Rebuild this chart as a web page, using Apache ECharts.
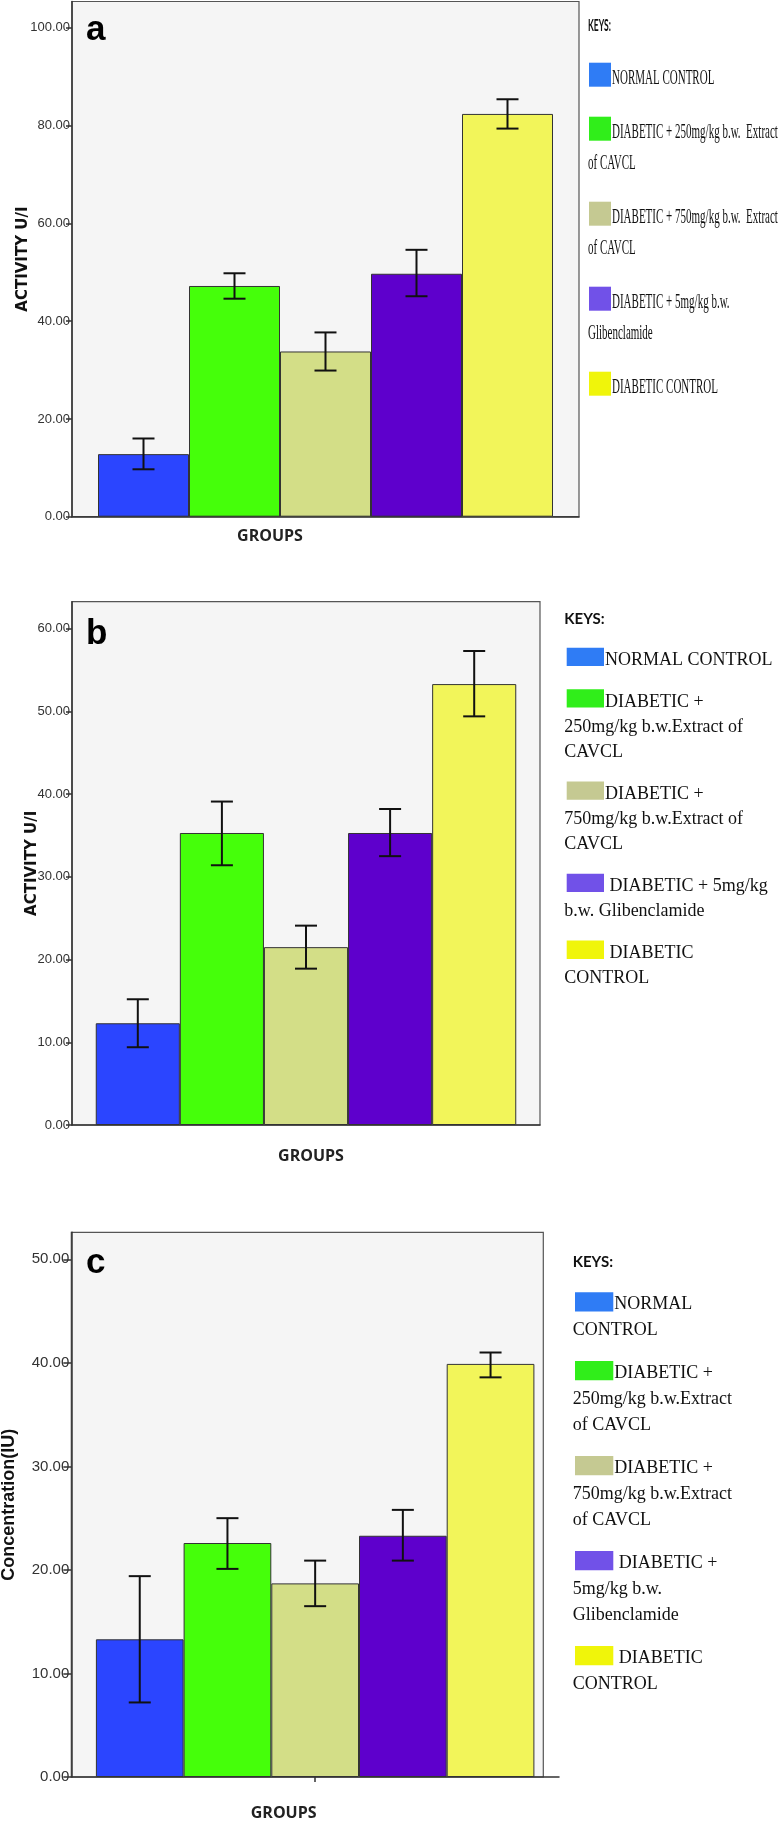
<!DOCTYPE html>
<html><head><meta charset="utf-8">
<script src="https://cdn.jsdelivr.net/npm/echarts@6/dist/echarts.min.js"></script>
<style>html,body{margin:0;padding:0;background:#fff}#c{width:783px;height:1824px}</style>
</head><body><div id="c"></div>
<script>
// ---------- DATA ----------
const groupNames = ['NORMAL CONTROL', 'DIABETIC + 250mg/kg b.w. Extract of CAVCL', 'DIABETIC + 750mg/kg b.w. Extract of CAVCL', 'DIABETIC + 5mg/kg b.w. Glibenclamide', 'DIABETIC CONTROL'];
const category = ['GROUPS'];

const meanA = [12.8, 47.2, 33.8, 49.7, 82.4];
const lowA  = [9.7, 44.6, 29.9, 45.1, 79.4];
const highA = [16.0, 49.8, 37.7, 54.6, 85.4];
const ticksA = [0, 20, 40, 60, 80, 100];

const meanB = [12.3, 35.3, 21.5, 35.3, 53.3];
const lowB  = [9.4, 31.4, 18.9, 32.5, 49.4];
const highB = [15.2, 39.1, 24.1, 38.2, 57.3];
const ticksB = [0, 10, 20, 30, 40, 50, 60];

const meanC = [13.3, 22.6, 18.7, 23.3, 39.9];
const lowC  = [7.2, 20.1, 16.5, 20.9, 38.6];
const highC = [19.4, 25.0, 20.9, 25.8, 41.0];
const ticksC = [0, 10, 20, 30, 40, 50];

const keysA = ['NORMAL CONTROL', 'DIABETIC + 250mg/kg b.w.  Extract\nof CAVCL', 'DIABETIC + 750mg/kg b.w.  Extract\nof CAVCL', 'DIABETIC + 5mg/kg b.w.\nGlibenclamide', 'DIABETIC CONTROL'];
const keysB = ['NORMAL CONTROL', 'DIABETIC +\n250mg/kg b.w.Extract of\nCAVCL', 'DIABETIC +\n750mg/kg b.w.Extract of\nCAVCL', ' DIABETIC + 5mg/kg\nb.w. Glibenclamide', ' DIABETIC\nCONTROL'];
const keysC = ['NORMAL\nCONTROL', 'DIABETIC +\n250mg/kg b.w.Extract\nof CAVCL', 'DIABETIC +\n750mg/kg b.w.Extract\nof CAVCL', ' DIABETIC +\n5mg/kg b.w.\nGlibenclamide', ' DIABETIC\nCONTROL'];

// ---------- STYLES ----------
const barColors = ['#2B45FF', '#45FF0A', '#D3DE87', '#5E00CC', '#F2F55A'];
const keyColors = ['#2F7CF5', '#30EE1A', '#C5C992', '#7151E8', '#F0F50A'];

const panels = [
  { mean: meanA, low: lowA, high: highA, ticks: ticksA, max: 105.4,
    grid: { left: 72, top: 1.5, width: 507, height: 515.2, show: true }, barW: 91,
    letter: 'a', letterX: 86, letterY: 30,
    yName: 'ACTIVITY U/I', yNameStyle: { fontFamily: 'DejaVu Sans', fontWeight: 'bold', fontSize: 15 }, yGap: 41.5,
    labelStyle: { fontFamily: '"Liberation Sans Narrow", "Liberation Sans", sans-serif', fontSize: 13 }, tickLen: 6, labelMargin: 2,
    xGap: 12, xPad: [0, 111, 0, 0], xTick: false,
    keys: keysA,
    L: { keysX: 588, keysY: 26, keysFont: 'bold 17px Lato', keysScale: 0.5, sqX: 589, sqW: 22, sqH: 24, firstTop: 62.7, textGap: 1, line2X: 588, textDy: 16, lineH: 31, itemBase: 54, scale: 0.5, font: '22px "Liberation Serif"' } },
  { mean: meanB, low: lowB, high: highB, ticks: ticksB, max: 63.26,
    grid: { left: 72, top: 601.7, width: 468, height: 523.3, show: true }, barW: 84.1,
    letter: 'b', letterX: 86, letterY: 634.7,
    yName: 'ACTIVITY U/I', yNameStyle: { fontFamily: 'DejaVu Sans', fontWeight: 'bold', fontSize: 15 }, yGap: 32,
    labelStyle: { fontFamily: '"Liberation Sans Narrow", "Liberation Sans", sans-serif', fontSize: 13 }, tickLen: 6, labelMargin: 2,
    xGap: 23, xPad: [0, 0, 0, 10], xTick: false,
    keys: keysB,
    L: { keysX: 564.3, keysY: 619, keysFont: 'bold 15px Lato', keysScale: 1, sqX: 566.7, sqW: 37.3, sqH: 18.3, firstTop: 647.7, textGap: 1, line2X: 564.3, textDy: 12.5, lineH: 25.3, itemBase: 41.6, scale: 1, font: '18px "Liberation Serif"' } },
  { mean: meanC, low: lowC, high: highC, ticks: ticksC, max: 52.61,
    grid: { left: 71.3, top: 1232.3, width: 487.7, height: 544.7, show: false }, frameW: 472, barW: 87.7,
    letter: 'c', letterX: 86, letterY: 1263,
    yName: 'Concentration(IU)', yNameStyle: { fontFamily: '"Liberation Sans", Arial, sans-serif', fontWeight: 'bold', fontSize: 18 }, yGap: 53,
    labelStyle: { fontFamily: '"Liberation Sans", Arial, sans-serif', fontSize: 15 }, tickLen: 8, labelMargin: 2,
    xGap: 28, xPad: [0, 63, 0, 0], xTick: true,
    keys: keysC,
    L: { keysX: 572.7, keysY: 1262, keysFont: 'bold 15px Lato', keysScale: 1, sqX: 575, sqW: 38.3, sqH: 19.3, firstTop: 1292.3, textGap: 1, line2X: 572.7, textDy: 12, lineH: 26.3, itemBase: 42.4, scale: 1, font: '18px "Liberation Serif"' } }
];

const grids = [], xAxes = [], yAxes = [], series = [], graphics = [];

function legendEls(labels, L) {
  const els = [];
  els.push({ type: 'text', x: L.keysX, y: L.keysY, scaleX: L.keysScale,
    style: { text: 'KEYS:', x: 0, y: 0, font: L.keysFont, fill: '#111', align: 'left', verticalAlign: 'middle' } });
  let top = L.firstTop;
  labels.forEach((lab, i) => {
    const lines = lab.split('\n');
    els.push({ type: 'rect', shape: { x: L.sqX, y: top, width: L.sqW, height: L.sqH }, style: { fill: keyColors[i] } });
    lines.forEach((ln, j) => {
      els.push({ type: 'text', x: j === 0 ? L.sqX + L.sqW + L.textGap : L.line2X, y: top + L.textDy + j * L.lineH, scaleX: L.scale,
        style: { text: ln, x: 0, y: 0, font: L.font, fill: '#111', align: 'left', verticalAlign: 'middle' } });
    });
    top += L.itemBase + (lines.length - 1) * L.lineH;
  });
  return els;
}

panels.forEach((p, k) => {
  grids.push(Object.assign({ backgroundColor: '#F5F5F5', borderColor: '#555', borderWidth: 1.2, outerBoundsMode: 'none', containLabel: false }, p.grid));
  if (!p.grid.show) {
    graphics.push({ type: 'rect', z: -10, shape: { x: p.grid.left, y: p.grid.top, width: p.frameW, height: p.grid.height },
      style: { fill: '#F5F5F5', stroke: '#555', lineWidth: 1.2 } });
  }
  xAxes.push({ type: 'category', gridIndex: k, data: category,
    axisLabel: { show: false },
    axisTick: { show: p.xTick, alignWithLabel: true, length: 5, lineStyle: { color: '#333', width: 1.5 } },
    axisLine: { show: true, lineStyle: { color: '#333', width: 1.5 } },
    splitLine: { show: false },
    name: 'GROUPS', nameLocation: 'middle', nameGap: p.xGap, nameMoveOverlap: false,
    nameTextStyle: { fontFamily: '"Open Sans", sans-serif', fontWeight: 'bold', fontSize: 16, color: '#222', padding: p.xPad } });
  yAxes.push({ type: 'value', gridIndex: k, min: 0, max: p.max, interval: p.ticks[1] - p.ticks[0],
    axisLine: { show: true, lineStyle: { color: '#333', width: 1.5 } },
    axisTick: { show: true, customValues: p.ticks, length: p.tickLen, lineStyle: { color: '#333', width: 1.5 } },
    axisLabel: Object.assign({ customValues: p.ticks, color: '#333', margin: p.labelMargin, formatter: v => v.toFixed(2) }, p.labelStyle),
    splitLine: { show: false },
    name: p.yName, nameLocation: 'middle', nameRotate: 90, nameGap: p.yGap, nameMoveOverlap: false,
    nameTextStyle: Object.assign({ color: '#111' }, p.yNameStyle) });
  groupNames.forEach((n, i) => {
    series.push({ type: 'bar', name: n, xAxisIndex: k, yAxisIndex: k, data: [p.mean[i]],
      barWidth: p.barW, barGap: '0%', z: 2,
      itemStyle: { color: barColors[i], borderColor: '#333', borderWidth: 1 } });
  });
  const bw = p.barW;
  series.push({ type: 'custom', xAxisIndex: k, yAxisIndex: k, z: 5,
    data: groupNames.map((n, i) => [0, p.low[i], p.high[i], i]),
    encode: { x: 0, y: [1, 2] },
    renderItem: (params, api) => {
      const i = api.value(3);
      const lo = api.coord([api.value(0), api.value(1)]);
      const hi = api.coord([api.value(0), api.value(2)]);
      const x = lo[0] + (i - 2) * bw;
      const h = 11, st = { stroke: '#111', lineWidth: 2 };
      return { type: 'group', children: [
        { type: 'line', shape: { x1: x, y1: hi[1], x2: x, y2: lo[1] }, style: st },
        { type: 'line', shape: { x1: x - h, y1: hi[1], x2: x + h, y2: hi[1] }, style: st },
        { type: 'line', shape: { x1: x - h, y1: lo[1], x2: x + h, y2: lo[1] }, style: st }
      ] };
    } });
  graphics.push({ type: 'text', x: p.letterX, y: p.letterY, z: 10,
    style: { text: p.letter, x: 0, y: 0, font: 'bold 35px "Liberation Sans", Arial, sans-serif', fill: '#000', align: 'left', verticalAlign: 'middle' } });
  legendEls(p.keys, p.L).forEach(e => graphics.push(e));
});

const chart = echarts.init(document.getElementById('c'), null, { renderer: 'canvas', width: 783, height: 1824 });
chart.setOption({
  animation: false,
  backgroundColor: '#ffffff',
  grid: grids, xAxis: xAxes, yAxis: yAxes, series: series,
  graphic: { elements: graphics }
});
</script></body></html>
